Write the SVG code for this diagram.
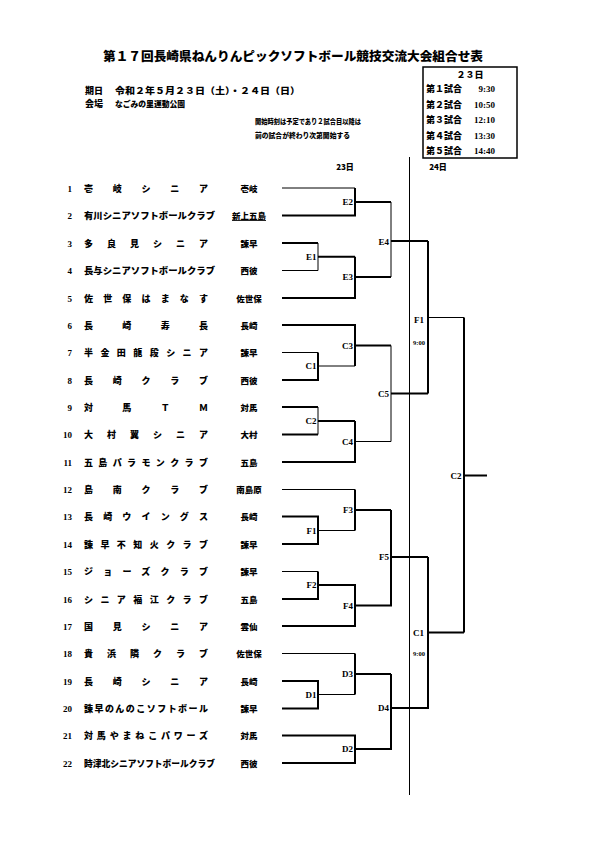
<svg xmlns="http://www.w3.org/2000/svg" width="595" height="842" viewBox="0 0 595 842">
<style>
.jp{font-family:"Noto Sans CJK JP","Noto Sans",sans-serif;font-weight:900;fill:#000}
.nm{font-size:9px}
.num{font-family:"Liberation Serif",serif;font-weight:bold;font-size:9px;text-anchor:end}
.ht{text-anchor:middle;font-size:8.5px}
.lb{font-family:"Liberation Serif",serif;font-weight:bold;font-size:9px;text-anchor:end}
.tm{font-family:"Liberation Serif",serif;font-weight:bold;font-size:6.5px;text-anchor:middle}
.k{stroke:#000;fill:none;stroke-width:2}
.t{stroke:#000;fill:none;stroke-width:1}
</style>
<rect width="595" height="842" fill="#fff"/>
<g id="header">
<text class="jp" x="103" y="61" font-size="12.5" textLength="380" lengthAdjust="spacingAndGlyphs">第１７回長崎県ねんりんピックソフトボール競技交流大会組合せ表</text>
<text class="jp" x="85" y="93.5" font-size="9">期日</text>
<text class="jp" x="115" y="93.5" font-size="9" textLength="185" lengthAdjust="spacingAndGlyphs">令和２年５月２３日（土）・２４日（日）</text>
<text class="jp" x="85" y="106.5" font-size="9">会場</text>
<text class="jp" x="115" y="106.5" font-size="8.5" textLength="70" lengthAdjust="spacingAndGlyphs">なごみの里運動公園</text>
<text class="jp" x="255" y="123.5" font-size="7" textLength="106" lengthAdjust="spacingAndGlyphs">開始時刻は予定であり２試合目以降は</text>
<text class="jp" x="255" y="138" font-size="7" textLength="95" lengthAdjust="spacingAndGlyphs">前の試合が終わり次第開始する</text>
</g>
<g id="schedule">
<rect x="423" y="67" width="94" height="91" fill="none" stroke="#000" stroke-width="1.5"/>
<text class="jp" x="470" y="78" font-size="9" text-anchor="middle">２３日</text>
<text class="jp" x="426" y="92" font-size="9">第１試合</text><text class="lb" x="495" y="92">9:30</text>
<text class="jp" x="426" y="107.5" font-size="9">第２試合</text><text class="lb" x="495" y="107.5">10:50</text>
<text class="jp" x="426" y="123" font-size="9">第３試合</text><text class="lb" x="495" y="123">12:10</text>
<text class="jp" x="426" y="138.5" font-size="9">第４試合</text><text class="lb" x="495" y="138.5">13:30</text>
<text class="jp" x="426" y="154" font-size="9">第５試合</text><text class="lb" x="495" y="154">14:40</text>
</g>
<g id="day-labels">
<text class="jp" x="345" y="170" font-size="8" text-anchor="middle">23日</text>
<text class="jp" x="438" y="170" font-size="8" text-anchor="middle">24日</text>
</g>
<g id="teams">
<g id="team1"><text class="num" x="72" y="191.5">1</text><text class="jp nm" x="84" y="191.5" textLength="124" lengthAdjust="spacing">壱岐シニア</text><text class="jp ht" x="249" y="191.5">壱岐</text></g>
<g id="team2"><text class="num" x="72" y="219">2</text><text class="jp nm" x="84" y="219" textLength="131" lengthAdjust="spacingAndGlyphs">有川シニアソフトボールクラブ</text><text class="jp ht" x="249" y="219" text-decoration="underline">新上五島</text></g>
<g id="team3"><text class="num" x="72" y="246.5">3</text><text class="jp nm" x="84" y="246.5" textLength="124" lengthAdjust="spacing">多良見シニア</text><text class="jp ht" x="249" y="246.5">諫早</text></g>
<g id="team4"><text class="num" x="72" y="274">4</text><text class="jp nm" x="84" y="274" textLength="131" lengthAdjust="spacingAndGlyphs">長与シニアソフトボールクラブ</text><text class="jp ht" x="249" y="274">西彼</text></g>
<g id="team5"><text class="num" x="72" y="301.5">5</text><text class="jp nm" x="84" y="301.5" textLength="124" lengthAdjust="spacing">佐世保はまなす</text><text class="jp ht" x="249" y="301.5">佐世保</text></g>
<g id="team6"><text class="num" x="72" y="328.5">6</text><text class="jp nm" x="84" y="328.5" textLength="124" lengthAdjust="spacing">長崎寿長</text><text class="jp ht" x="249" y="328.5">長崎</text></g>
<g id="team7"><text class="num" x="72" y="356">7</text><text class="jp nm" x="84" y="356" textLength="124" lengthAdjust="spacing">半金田龍段シニア</text><text class="jp ht" x="249" y="356">諫早</text></g>
<g id="team8"><text class="num" x="72" y="383.5">8</text><text class="jp nm" x="84" y="383.5" textLength="124" lengthAdjust="spacing">長崎クラブ</text><text class="jp ht" x="249" y="383.5">西彼</text></g>
<g id="team9"><text class="num" x="72" y="410.5">9</text><text class="jp nm" x="84" y="410.5" textLength="124" lengthAdjust="spacing">対馬ＴＭ</text><text class="jp ht" x="249" y="410.5">対馬</text></g>
<g id="team10"><text class="num" x="72" y="438">10</text><text class="jp nm" x="84" y="438" textLength="124" lengthAdjust="spacing">大村翼シニア</text><text class="jp ht" x="249" y="438">大村</text></g>
<g id="team11"><text class="num" x="72" y="465.5">11</text><text class="jp nm" x="84" y="465.5" textLength="124" lengthAdjust="spacing">五島パラモンクラブ</text><text class="jp ht" x="249" y="465.5">五島</text></g>
<g id="team12"><text class="num" x="72" y="493">12</text><text class="jp nm" x="84" y="493" textLength="124" lengthAdjust="spacing">島南クラブ</text><text class="jp ht" x="249" y="493">南島原</text></g>
<g id="team13"><text class="num" x="72" y="520">13</text><text class="jp nm" x="84" y="520" textLength="124" lengthAdjust="spacing">長崎ウイングス</text><text class="jp ht" x="249" y="520">長崎</text></g>
<g id="team14"><text class="num" x="72" y="547.5">14</text><text class="jp nm" x="84" y="547.5" textLength="124" lengthAdjust="spacing">諫早不知火クラブ</text><text class="jp ht" x="249" y="547.5">諫早</text></g>
<g id="team15"><text class="num" x="72" y="575">15</text><text class="jp nm" x="84" y="575" textLength="124" lengthAdjust="spacing">ジョーズクラブ</text><text class="jp ht" x="249" y="575">諫早</text></g>
<g id="team16"><text class="num" x="72" y="602.5">16</text><text class="jp nm" x="84" y="602.5" textLength="124" lengthAdjust="spacing">シニア福江クラブ</text><text class="jp ht" x="249" y="602.5">五島</text></g>
<g id="team17"><text class="num" x="72" y="629.5">17</text><text class="jp nm" x="84" y="629.5" textLength="124" lengthAdjust="spacing">国見シニア</text><text class="jp ht" x="249" y="629.5">雲仙</text></g>
<g id="team18"><text class="num" x="72" y="657">18</text><text class="jp nm" x="84" y="657" textLength="124" lengthAdjust="spacing">貴浜隣クラブ</text><text class="jp ht" x="249" y="657">佐世保</text></g>
<g id="team19"><text class="num" x="72" y="684.5">19</text><text class="jp nm" x="84" y="684.5" textLength="124" lengthAdjust="spacing">長崎シニア</text><text class="jp ht" x="249" y="684.5">長崎</text></g>
<g id="team20"><text class="num" x="72" y="712">20</text><text class="jp nm" x="84" y="712" textLength="124" lengthAdjust="spacing">諫早のんのこソフトボール</text><text class="jp ht" x="249" y="712">諫早</text></g>
<g id="team21"><text class="num" x="72" y="739">21</text><text class="jp nm" x="84" y="739" textLength="124" lengthAdjust="spacing">対馬やまねこパワーズ</text><text class="jp ht" x="249" y="739">対馬</text></g>
<g id="team22"><text class="num" x="72" y="766.5">22</text><text class="jp nm" x="84" y="766.5" textLength="131" lengthAdjust="spacingAndGlyphs">時津北シニアソフトボールクラブ</text><text class="jp ht" x="249" y="766.5">西彼</text></g>
</g>
<g id="connectors">
<line x1="409.5" y1="157" x2="409.5" y2="795" class="t"/>
<path class="t" d="M282 188H355"/>
<path class="k" d="M282 215.5H355V188"/>
<path class="k" d="M355 202H391"/>
<path class="k" d="M282 243H318"/>
<path class="t" d="M282 270.5H318V243"/>
<path class="k" d="M318 256.75H355"/>
<path class="k" d="M282 298H355V256.75"/>
<path class="k" d="M355 277H391"/>
<path class="t" d="M391 202V277"/>
<path class="k" d="M391 241H428"/>
<path class="k" d="M282 325H355V366"/>
<path class="k" d="M355 345.5H391"/>
<path class="t" d="M282 352.5H318"/>
<path class="k" d="M282 380H318V352.5"/>
<path class="t" d="M318 366H355"/>
<path class="k" d="M282 407H318"/>
<path class="k" d="M282 434.5H318"/>
<path class="t" d="M318 407V434.5"/>
<path class="k" d="M318 421H355"/>
<path class="k" d="M282 462H355V421"/>
<path class="t" d="M355 441.5H391"/>
<path class="t" d="M391 345.5V441.5"/>
<path class="k" d="M391 393.5H428"/>
<path class="k" d="M428 241V393.5"/>
<path class="t" d="M428 317.5H464"/>
<path class="t" d="M282 489.5H355"/>
<path class="k" d="M355 489.5V530.5"/>
<path class="k" d="M355 510H391"/>
<path class="k" d="M282 516.5H318V544H282"/>
<path class="t" d="M318 530.5H355"/>
<path class="t" d="M282 571.5H318"/>
<path class="k" d="M318 571.5V599H282"/>
<path class="k" d="M318 585H355V626H282"/>
<path class="k" d="M355 605.5H391V510"/>
<path class="k" d="M391 557H428"/>
<path class="t" d="M282 653.5H355"/>
<path class="k" d="M355 653.5V694.5"/>
<path class="k" d="M355 674H391"/>
<path class="k" d="M282 681H318V708.5H282"/>
<path class="t" d="M318 694.5H355"/>
<path class="k" d="M282 735.5H355V763H282"/>
<path class="k" d="M355 749H391V674"/>
<path class="k" d="M391 708H428V557"/>
<path class="k" d="M428 632.5H464"/>
<path class="k" d="M464 317.5V632.5"/>
<path class="k" d="M464 475.5H487"/>
</g>
<g id="labels">
<text class="lb" x="353" y="205">E2</text>
<text class="lb" x="316.5" y="260">E1</text>
<text class="lb" x="353" y="280">E3</text>
<text class="lb" x="389" y="245">E4</text>
<text class="lb" x="353" y="348.5">C3</text>
<text class="lb" x="316.5" y="369">C1</text>
<text class="lb" x="389" y="396.5">C5</text>
<text class="lb" x="316.5" y="424">C2</text>
<text class="lb" x="353" y="444.5">C4</text>
<text class="lb" x="353" y="513">F3</text>
<text class="lb" x="316.5" y="533.5">F1</text>
<text class="lb" x="389" y="560">F5</text>
<text class="lb" x="316.5" y="588">F2</text>
<text class="lb" x="353" y="608.5">F4</text>
<text class="lb" x="353" y="677">D3</text>
<text class="lb" x="316.5" y="697.5">D1</text>
<text class="lb" x="389" y="711">D4</text>
<text class="lb" x="353" y="752">D2</text>
<text class="lb" x="424" y="323">F1</text>
<text class="tm" x="419" y="345">9:00</text>
<text class="lb" x="424" y="636">C1</text>
<text class="tm" x="419" y="656">9:00</text>
<text class="lb" x="461.5" y="478.5">C2</text>
</g>
</svg>
